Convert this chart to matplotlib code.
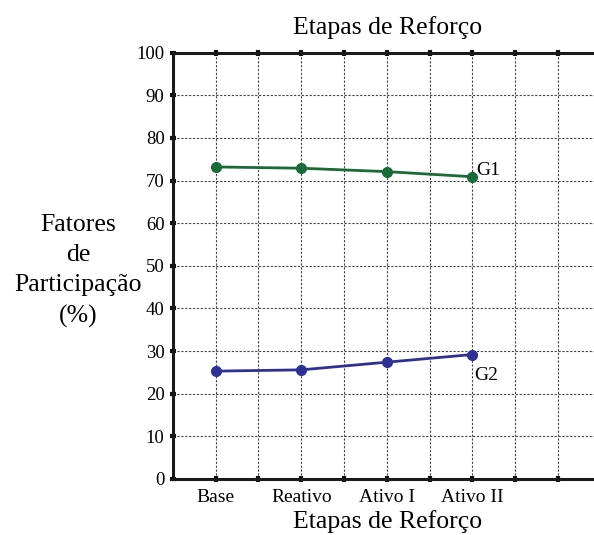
import numpy as np
import matplotlib.pyplot as plt

# dados
etapas = ['Base', 'Reativo', 'Ativo I', 'Ativo II']
pos = [1, 3, 5, 7]
g1 = [73.2, 72.9, 72.1, 70.9]
g2 = [25.3, 25.6, 27.4, 29.2]

plt.rcParams['font.family'] = 'Liberation Serif'

fig = plt.figure(figsize=(5.94, 5.35), dpi=100)
ax = fig.add_axes([0.291, 0.1047, 0.709, 0.7968])

ax.plot(pos, g1, color='#1b6b3a', lw=2, marker='o', markersize=7, clip_on=False, zorder=3)
ax.plot(pos, g2, color='#2e3192', lw=2, marker='o', markersize=7, clip_on=False, zorder=3)
ax.text(pos[-1] + 0.1, g1[-1] - 0.6, 'G1', fontsize=14, ha='left', va='bottom')
ax.text(pos[-1] + 0.05, g2[-1] - 3.0, 'G2', fontsize=14, ha='left', va='top')

ax.set_xlim(0, 9.84)
ax.set_ylim(0, 100)
ax.set_xticks(range(1, 10))
ax.set_xticklabels(['Base', '', 'Reativo', '', 'Ativo I', '', 'Ativo II', '', ''])
ax.set_yticks(range(0, 101, 10))
ax.tick_params(axis='both', direction='inout', length=4, width=3,
               top=True, color='#111111')
ax.tick_params(axis='x', pad=5.5, labelsize=14)
ax.tick_params(axis='y', pad=4, labelsize=13.5)
ax.grid(True, linestyle=(0, (2, 1.5)), color='#444444', lw=0.8)

for s in ['left', 'bottom', 'top']:
    ax.spines[s].set_linewidth(2.2)
    ax.spines[s].set_color('#1a1a1a')
ax.spines['right'].set_visible(False)

fig.text(388 / 594, 1 - 28 / 535, 'Etapas de Reforço', fontsize=18.5, ha='center', va='center')
fig.text(388 / 594, 1 - 522 / 535, 'Etapas de Reforço', fontsize=18.5, ha='center', va='center')
fig.text(78 / 594, 1 - 271 / 535, 'Fatores\nde\nParticipação\n(%)', fontsize=18.5,
         ha='center', va='center', linespacing=1.48)

plt.savefig('out.png', dpi=100)
plt.close()
